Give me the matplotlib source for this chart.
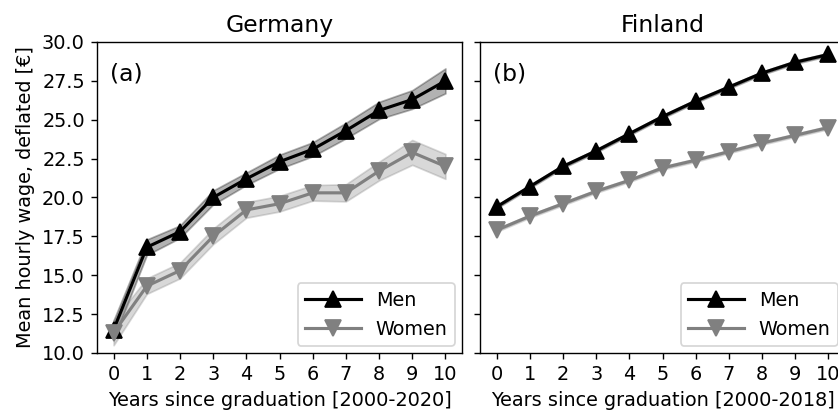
import matplotlib
matplotlib.use('Agg')
import matplotlib.pyplot as plt
import numpy as np

years = np.arange(11)

# Germany, mean hourly wage (deflated, EUR) with band half-widths
de_men = [11.5, 16.8, 17.8, 20.0, 21.2, 22.3, 23.1, 24.3, 25.6, 26.3, 27.5]
de_men_err = [0.6, 0.5, 0.4, 0.45, 0.4, 0.45, 0.45, 0.5, 0.55, 0.6, 0.8]
de_women = [11.3, 14.3, 15.3, 17.5, 19.2, 19.6, 20.3, 20.3, 21.7, 22.9, 22.0]
de_women_err = [0.8, 0.5, 0.5, 0.5, 0.5, 0.5, 0.5, 0.55, 0.6, 0.8, 0.8]

# Finland
fi_men = [19.4, 20.7, 22.0, 23.0, 24.1, 25.2, 26.2, 27.1, 28.0, 28.7, 29.2]
fi_men_err = [0.1] * 11
fi_women = [17.9, 18.8, 19.6, 20.4, 21.1, 21.9, 22.4, 22.95, 23.5, 24.0, 24.5]
fi_women_err = [0.1] * 11

panels = [
    ('Germany', '(a)', '[2000-2020]', de_men, de_men_err, de_women, de_women_err),
    ('Finland', '(b)', '[2000-2018]', fi_men, fi_men_err, fi_women, fi_women_err),
]

plt.rcParams['font.size'] = 11.1
dpi = 125
W, H = 838, 417
fig = plt.figure(figsize=(W / dpi, H / dpi), dpi=dpi)

ax_w = 365 / W
ax_h = 311 / H
bottom = 1 - 353 / H
axes = [fig.add_axes([97 / W, bottom, ax_w, ax_h])]
axes.append(fig.add_axes([480 / W, bottom, ax_w, ax_h], sharey=axes[0]))

for ax, (title, tag, span, men, men_err, women, women_err) in zip(axes, panels):
    men = np.array(men)
    women = np.array(women)
    ax.fill_between(years, men - np.array(men_err), men + np.array(men_err),
                    color='black', alpha=0.3)
    ax.fill_between(years, women - np.array(women_err), women + np.array(women_err),
                    color='gray', alpha=0.3)
    ax.plot(years, men, color='black', marker='^', markersize=9, lw=1.8, label='Men')
    ax.plot(years, women, color='gray', marker='v', markersize=9, lw=1.8, label='Women')
    ax.set_title(title, fontsize=13.5)
    ax.text(0.035, 0.935, tag, transform=ax.transAxes, fontsize=13.5, va='top')
    ax.set_xlabel(f'Years since graduation {span}')
    ax.set_xticks(years)
    ax.set_xlim(-0.5, 10.5)
    ax.legend(loc='lower right', fontsize=11, handlelength=2.9, borderaxespad=0.35)

axes[0].set_ylim(10, 30)
axes[0].set_yticks(np.arange(10, 30.1, 2.5))
axes[0].set_ylabel('Mean hourly wage, deflated [€]')
axes[1].tick_params(labelleft=False)

fig.savefig('out.png', dpi=dpi)
